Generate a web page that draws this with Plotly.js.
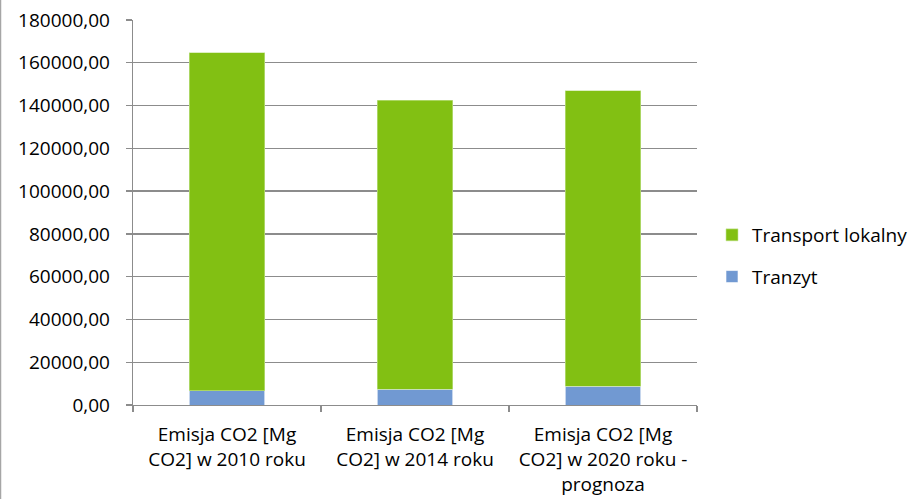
<!DOCTYPE html>
<html>
<head>
<meta charset="utf-8">
<script src="https://cdn.plot.ly/plotly-3.0.1.min.js"></script>
<style>
  html, body { margin: 0; padding: 0; background: #fff; }
  #chart { width: 914px; height: 499px; }
</style>
</head>
<body>
<div id="chart"></div>
<script>
// Emisja CO2 – podział na tranzyt i transport lokalny
const categories = [
  "Emisja CO2 [Mg<br>CO2] w 2010 roku",
  "Emisja CO2 [Mg<br>CO2] w 2014 roku",
  "Emisja CO2 [Mg<br>CO2] w 2020 roku -<br>prognoza"
];
const tranzyt = [6700, 7350, 8750];
const transportLokalny = [158000, 135150, 138250];
const yTickValues = [0, 20000, 40000, 60000, 80000, 100000, 120000, 140000, 160000, 180000];
const yTickLabels = ["0,00", "20000,00", "40000,00", "60000,00", "80000,00",
                     "100000,00", "120000,00", "140000,00", "160000,00", "180000,00"];

const FONT = "Open Sans, Liberation Sans, sans-serif";
const TEXT = "#000000";
const GRID = "#8c8c8c";
const FS = 19;

const traces = [
  {
    type: "bar", name: "Tranzyt", x: categories, y: tranzyt,
    legendgroup: "b", legendrank: 2,
    marker: { color: "#7199d2", line: { color: "#ffffff", width: 0.6 } },
    width: 0.4, hoverinfo: "skip"
  },
  {
    type: "bar", name: "Transport lokalny", x: categories, y: transportLokalny,
    legendgroup: "a", legendrank: 1,
    marker: { color: "#82c013", line: { color: "#c7e59a", width: 0.6 } },
    width: 0.4, hoverinfo: "skip"
  }
];

const layout = {
  width: 914, height: 499,
  margin: { l: 133, r: 217, t: 20, b: 94, autoexpand: false },
  paper_bgcolor: "#ffffff", plot_bgcolor: "#ffffff",
  barmode: "stack",
  font: { family: FONT, size: FS, color: TEXT },
  showlegend: true,
  legend: {
    xref: "container", yref: "container",
    x: 712 / 914, xanchor: "left", y: 1 - 256 / 499, yanchor: "middle",
    traceorder: "grouped", tracegroupgap: 14,
    font: { family: FONT, size: FS, color: TEXT },
    itemwidth: 30, bgcolor: "rgba(0,0,0,0)"
  },
  xaxis: {
    type: "category",
    showline: true, linecolor: GRID, linewidth: 1.3,
    ticks: "outside", tickson: "boundaries", ticklen: 6, tickcolor: GRID, tickwidth: 1.3,
    ticklabelstandoff: 12,
    showgrid: false, zeroline: false,
    tickfont: { family: FONT, size: FS, color: TEXT }
  },
  yaxis: {
    range: [0, 180000],
    tickvals: yTickValues, ticktext: yTickLabels,
    showline: true, linecolor: GRID, linewidth: 1.3,
    ticks: "outside", ticklen: 6, tickcolor: GRID, tickwidth: 1.3,
    ticklabelstandoff: 12,
    showgrid: true, gridcolor: GRID, gridwidth: 1.3,
    zeroline: false,
    tickfont: { family: FONT, size: FS, color: TEXT }
  },
  shapes: [
    {
      type: "line", xref: "paper", yref: "paper",
      x0: -132.5 / 564, x1: -132.5 / 564, y0: -94 / 385, y1: 1 + 20 / 385,
      line: { color: "#a6a6a6", width: 1.5 }
    }
  ]
};

Plotly.newPlot("chart", traces, layout, { staticPlot: true, displayModeBar: false });
</script>
</body>
</html>
